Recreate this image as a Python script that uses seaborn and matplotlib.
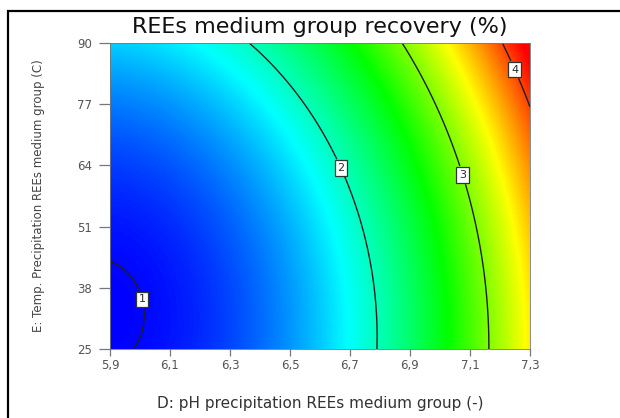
import numpy as np
import matplotlib
matplotlib.use("Agg")
import matplotlib.pyplot as plt
import seaborn as sns
from matplotlib.patches import Rectangle

# ---- chart values ----
ph_ticks = [5.9, 6.1, 6.3, 6.5, 6.7, 6.9, 7.1, 7.3]
ph_tick_labels = ["5,9", "6,1", "6,3", "6,5", "6,7", "6,9", "7,1", "7,3"]
temp_ticks = [25, 38, 51, 64, 77, 90]
temp_tick_labels = ["25", "38", "51", "64", "77", "90"]

coef_intercept = 1.788
coef_linear = [1.2865, 0.381]      # D: pH, E: temperature
coef_quadratic = [0.599, 0.215]
coef_interaction = 0.0545

contour_levels = [1, 2, 3, 4]
label_ph = [5.985, 6.667, 7.078, 7.247]
label_temp = [35.2, 63.4, 62.0, 84.3]
color_stops = ["#0000ff", "#00ffff", "#00ff00", "#ffff00", "#ff0000"]

title = "REEs medium group recovery (%)"
xlabel = "D: pH precipitation REEs medium group (-)"
ylabel = "E: Temp. Precipitation REEs medium group (C)"

# ---- style ----
sns.set_style("ticks")
plt.rcParams["font.family"] = ["DejaVu Sans"]

ph = np.linspace(ph_ticks[0], ph_ticks[-1], 400)
temp = np.linspace(temp_ticks[0], temp_ticks[-1], 400)
PH, TT = np.meshgrid(ph, temp)
X = (PH - 6.6) / 0.7
Y = (TT - 57.5) / 32.5
Z = (coef_intercept + coef_linear[0] * X + coef_linear[1] * Y
     + coef_quadratic[0] * X ** 2 + coef_quadratic[1] * Y ** 2
     + coef_interaction * X * Y)

W, H = 620, 418
fig = plt.figure(figsize=(W / 100, H / 100), dpi=100)
ax = fig.add_axes([110 / W, 1 - 349 / H, 420 / W, 306 / H])

cmap = sns.blend_palette(color_stops, as_cmap=True)
ax.imshow(Z, origin="lower", aspect="auto", cmap=cmap,
          extent=[ph[0], ph[-1], temp[0], temp[-1]],
          vmin=Z.min(), vmax=Z.max() - 0.1, interpolation="bilinear")

cs = ax.contour(PH, TT, Z, levels=contour_levels, colors="#1e1e1e", linewidths=1.0)
ax.set_xlim(ph_ticks[0], ph_ticks[-1])
ax.set_ylim(temp_ticks[0], temp_ticks[-1])
labels = ax.clabel(cs, contour_levels, inline=True, fmt="%d", fontsize=8,
                   manual=list(zip(label_ph, label_temp)), inline_spacing=6)
for t in labels:
    t.set_rotation(0)
    t.set_color("#2a2a2a")
    t.set_bbox(dict(boxstyle="square,pad=0.25", fc="white", ec="#333333", lw=0.9))

ax.set_xticks(ph_ticks)
ax.set_xticklabels(ph_tick_labels)
ax.set_yticks(temp_ticks)
ax.set_yticklabels(temp_tick_labels)
ax.tick_params(axis="x", direction="out", length=5, width=0.9, color="#777777",
               pad=2, labelsize=8.5, labelcolor="#555555")
ax.tick_params(axis="y", direction="out", length=8, width=0.9, color="#777777",
               pad=5, labelsize=8.5, labelcolor="#555555")
for s in ax.spines.values():
    s.set_color("#777777")
    s.set_linewidth(0.6)

ax.set_title(title, fontsize=16, pad=7, color="#111111")
ax.set_xlabel(xlabel, fontsize=11, color="#333333")
ax.set_ylabel(ylabel, fontsize=8.5, color="#444444")
ax.xaxis.set_label_coords(0.5, -0.155)
ax.yaxis.set_label_coords(-0.155, 0.5)

fig.add_artist(Rectangle((8 / W, -0.2), 1.5, 1 - 11 / H + 0.2,
                         transform=fig.transFigure, fill=False,
                         ec="black", lw=1.6))

fig.savefig("out.png", dpi=100)
